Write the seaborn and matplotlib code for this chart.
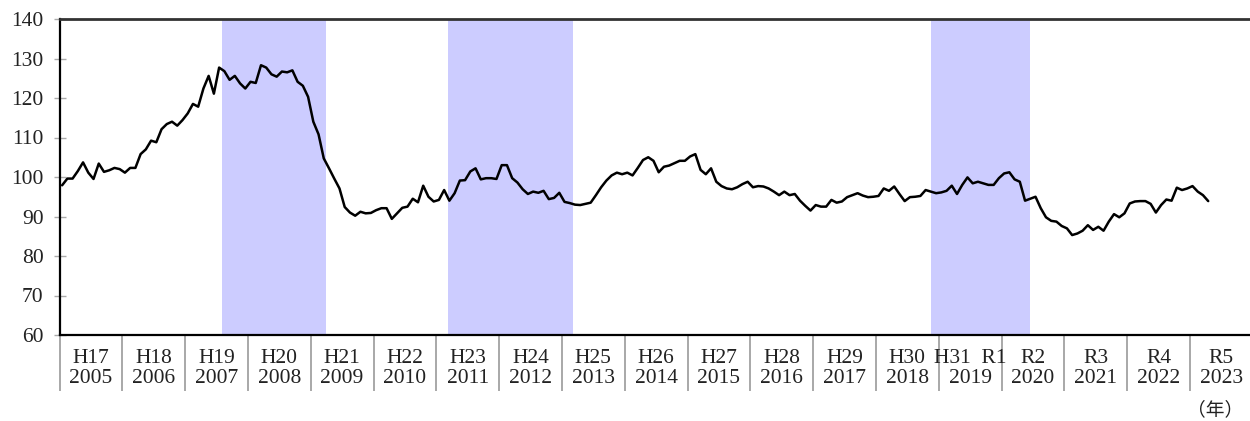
import numpy as np
import pandas as pd
import matplotlib
matplotlib.use("Agg")
import matplotlib.pyplot as plt
import seaborn as sns

# monthly index, Jan 2005 .. Apr 2023
values = [
    97.9, 99.6, 99.6, 101.5, 103.7, 101.1, 99.5, 103.4, 101.3, 101.7, 102.3, 102.0,   # 2005
    101.1, 102.3, 102.3, 105.8, 107.0, 109.2, 108.8, 112.1, 113.4, 114.0, 113.0, 114.4,  # 2006
    116.1, 118.5, 117.8, 122.4, 125.6, 121.1, 127.7, 126.8, 124.6, 125.6, 123.7, 122.4,  # 2007
    124.1, 123.8, 128.3, 127.7, 126.0, 125.4, 126.7, 126.5, 127.0, 124.1, 123.1, 120.3,  # 2008
    114.0, 110.8, 104.7, 102.2, 99.6, 97.1, 92.4, 91.0, 90.2, 91.2, 90.8, 90.9,        # 2009
    91.6, 92.1, 92.1, 89.4, 90.8, 92.2, 92.5, 94.5, 93.6, 97.8, 95.0, 93.8,            # 2010
    94.2, 96.7, 94.0, 95.9, 99.1, 99.2, 101.4, 102.2, 99.4, 99.7, 99.7, 99.5,          # 2011
    103.0, 103.0, 99.7, 98.6, 96.9, 95.7, 96.3, 96.0, 96.5, 94.4, 94.7, 96.0,          # 2012
    93.7, 93.4, 93.0, 92.9, 93.2, 93.5, 95.4, 97.4, 99.1, 100.4, 101.1, 100.7,         # 2013
    101.1, 100.4, 102.3, 104.3, 105.0, 104.1, 101.2, 102.6, 102.9, 103.5, 104.1, 104.1,  # 2014
    105.2, 105.8, 101.8, 100.7, 102.2, 98.8, 97.7, 97.1, 96.9, 97.4, 98.2, 98.8,       # 2015
    97.4, 97.7, 97.6, 97.1, 96.3, 95.4, 96.3, 95.4, 95.7, 94.0, 92.7, 91.5,            # 2016
    92.9, 92.5, 92.5, 94.2, 93.5, 93.8, 94.9, 95.4, 95.9, 95.3, 94.9, 95.0,            # 2017
    95.2, 97.1, 96.5, 97.6, 95.7, 93.9, 94.9, 95.0, 95.2, 96.7, 96.3, 95.9,            # 2018
    96.1, 96.5, 97.8, 95.7, 98.0, 99.9, 98.4, 98.8, 98.4, 98.0, 98.0, 99.7,            # 2019
    100.9, 101.2, 99.4, 98.8, 94.0, 94.5, 95.0, 92.1, 89.8, 88.9, 88.7, 87.6,          # 2020
    87.0, 85.3, 85.7, 86.4, 87.8, 86.6, 87.4, 86.4, 88.7, 90.6, 89.8, 90.8,            # 2021
    93.3, 93.8, 93.9, 93.9, 93.2, 91.0, 92.9, 94.3, 94.0, 97.3, 96.7, 97.1,            # 2022
    97.7, 96.3, 95.4, 93.9,                                                            # 2023
]

years = list(range(2005, 2024))
eras = ["H17", "H18", "H19", "H20", "H21", "H22", "H23", "H24", "H25", "H26",
        "H27", "H28", "H29", "H30", "H31  R1", "R2", "R3", "R4", "R5"]

# shaded periods (months since Jan 2005), drawn as adjacent blocks
shade_blocks = [
    [31.0, 38.0, 45.0, 51.0],
    [74.3, 82.1, 89.3, 96.3, 98.2],
    [166.5, 171.3, 185.5],
]

df = pd.DataFrame({"month": np.arange(len(values)) + 0.5, "value": values})

sns.set_style("white")
plt.rcParams["font.family"] = ["Liberation Serif", "Noto Sans CJK JP"]

fig = plt.figure(figsize=(12.5, 4.21), dpi=100)
ax = fig.add_axes([59.5 / 1250, 86 / 421, 1193.2 / 1250, 316 / 421])

for blocks in shade_blocks:
    for a, b in zip(blocks[:-1], blocks[1:]):
        ax.axvspan(a, b, color="#ccccff", lw=0, zorder=0)

sns.lineplot(data=df, x="month", y="value", ax=ax, color="black", linewidth=1.8)

ax.set_xlim(0, 12 * len(years))
ax.set_ylim(60, 140)
ax.set_yticks(range(60, 141, 10))
ax.set_xlabel("")
ax.set_ylabel("")

# year boundaries as long ticks, labels centred in each year
ax.set_xticks([12 * i for i in range(len(years))])
ax.set_xticklabels([])
ax.set_xticks([12 * i + 6 for i in range(len(years))], minor=True)
ax.set_xticklabels([f"{e}\n{y}" for e, y in zip(eras, years)], minor=True)
ax.tick_params(axis="x", which="major", bottom=True, direction="out", length=40,
               width=1.2, color="#999999")
ax.tick_params(axis="x", which="minor", bottom=True, length=0, pad=10,
               labelsize=15.5, labelcolor="#222222")
ax.tick_params(axis="y", left=True, direction="inout", length=9, width=1, color="#aaaaaa",
               labelsize=15.5, pad=7, labelcolor="#222222")
for lab in ax.get_xticklabels(minor=True):
    lab.set_linespacing(1.1)

for side in ["left", "bottom"]:
    ax.spines[side].set_color("black")
    ax.spines[side].set_linewidth(1.6)
ax.spines["top"].set_color("#333333")
ax.spines["top"].set_linewidth(2)
ax.spines["right"].set_visible(False)

fig.text(1215 / 1250, 1 - 410 / 421, "（年）", ha="center", va="center", fontsize=13.5,
         color="#222222")

fig.savefig("out.png", dpi=100)
